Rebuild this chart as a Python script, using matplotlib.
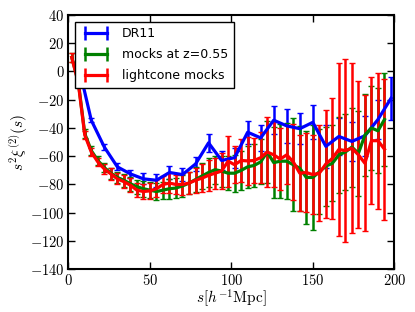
import matplotlib
matplotlib.use("Agg")
import matplotlib.pyplot as plt
from matplotlib.lines import Line2D
from matplotlib.ticker import FuncFormatter, MultipleLocator

plt.rcParams['mathtext.fontset'] = 'cm'
plt.rcParams['font.family'] = ['DejaVu Sans']

# DR11 data
s_dr11 = [6, 14, 22, 30, 38, 46, 54, 62, 70, 78, 86, 94, 102, 110, 118, 126,
          134, 142, 150, 158, 166, 174, 182, 190, 198]
xi_dr11 = [5, -34.5, -53.5, -67.5, -72.5, -76, -77, -71.5, -73, -65.5, -50.5, -63,
           -61, -43, -47, -34.5, -38.5, -40.5, -36, -53, -46, -49.5, -45.5, -34, -19]
err_dr11 = [1, 1.5, 2, 2.5, 3, 4, 4.5, 4.5, 4.5, 5, 6.5, 7, 7, 8, 9, 10, 12, 11,
            12, 15, 13, 14, 14, 14, 15]

# mock grid
s_mock = [2, 6, 10, 14, 18, 22, 26, 30, 34, 38, 42, 46, 50, 54, 58, 62, 66, 70,
          74, 78, 82, 86, 90, 94, 98, 102, 106, 110, 114, 118, 122, 126, 130, 134,
          138, 142, 146, 150, 154, 158, 162, 166, 170, 174, 178, 182, 186, 190, 194]

# mocks at z=0.55
xi_mock = [10, -7, -44, -56, -63, -68, -72, -75, -77, -79.5, -81.5, -83, -84, -85,
           -84, -83, -82.5, -81, -79, -76.5, -74, -71.5, -69.5, -70.5, -72, -72,
           -70, -67.5, -66.5, -64, -57, -64.5, -63.5, -63.5, -66, -68.5, -75, -75,
           -71, -67, -65, -59, -57, -53.5, -58, -45, -40, -42, -34]
err_mock = [3, 3, 3, 3, 3, 3.5, 4, 4, 4.5, 5, 5, 5.5, 5.5, 6, 6, 7, 7, 7.5, 8, 9,
            9, 10, 10, 11, 12, 13, 14, 15, 15, 16, 22, 25, 26, 27, 33, 30, 33, 37,
            30, 28, 27, 27, 27, 28, 30, 29, 30, 30, 33]

# lightcone mocks
xi_lc = [10, -8, -45, -57, -64, -69, -72.5, -76, -78, -80.5, -84, -85, -84.5, -83,
         -80, -79, -80, -80, -79, -77, -75.5, -73.5, -72, -70.5, -63.5, -66, -63,
         -63.3, -63, -61, -57, -59, -62, -59, -64, -72, -71.5, -73, -72, -65.5,
         -61.5, -55.2, -56, -54.3, -59, -65, -49, -49, -55]
err_lc = [3, 3, 3, 3, 3, 3.5, 4, 4, 4.5, 5, 5, 5.5, 5.5, 6, 6, 7, 7, 7.5, 8, 9,
          10, 11, 11, 13, 18, 13, 15, 17, 16, 18, 25, 23, 22, 21, 27, 27, 28, 28,
          34, 38, 43, 61, 65, 60, 52, 48, 45, 48, 50]

labels = ['DR11', 'mocks at z=0.55', 'lightcone mocks']
colors = [(0, 0, 1), (0, 0.5, 0), (1, 0, 0)]

fig = plt.figure(figsize=(4.15, 3.12), dpi=100)
ax = fig.add_axes([0.165, 0.137, 0.785, 0.815])

kw = dict(linewidth=2.3, elinewidth=1.8, capsize=2, capthick=1)
ax.errorbar(s_dr11, xi_dr11, yerr=err_dr11, color=colors[0], **kw)
ax.errorbar(s_mock, xi_mock, yerr=err_mock, color=colors[1], **kw)
ax.errorbar(s_mock, xi_lc, yerr=err_lc, color=colors[2], **kw)

ax.set_xlim(0, 200)
ax.set_ylim(-140, 40)
ax.xaxis.set_major_locator(MultipleLocator(50))
ax.yaxis.set_major_locator(MultipleLocator(20))
fmt = FuncFormatter(lambda v, p: r'$%d$' % int(round(v)))
ax.xaxis.set_major_formatter(fmt)
ax.yaxis.set_major_formatter(fmt)
ax.tick_params(direction='in', top=True, right=True, length=5, width=1,
               labelsize=10.5, pad=3)
for sp in ax.spines.values():
    sp.set_linewidth(1.5)

ax.set_xlabel(r'$s[h^{-1}{\rm Mpc}]$', fontsize=11, labelpad=-1)
ax.set_ylabel(r'$s^2\xi^{(2)}(s)$', fontsize=11, labelpad=0)

handles = [Line2D([], [], color=c, lw=2.3, marker='|', markersize=10,
                  markeredgewidth=1.8) for c in colors]
leg = ax.legend(handles, labels, loc='upper left', fontsize=9, fancybox=False,
                framealpha=1, edgecolor='black', handlelength=2.4, numpoints=2,
                borderaxespad=0.55, labelspacing=0.62, handletextpad=0.9,
                borderpad=0.45)
leg.get_frame().set_linewidth(1.0)

fig.savefig('out.png', dpi=100)
